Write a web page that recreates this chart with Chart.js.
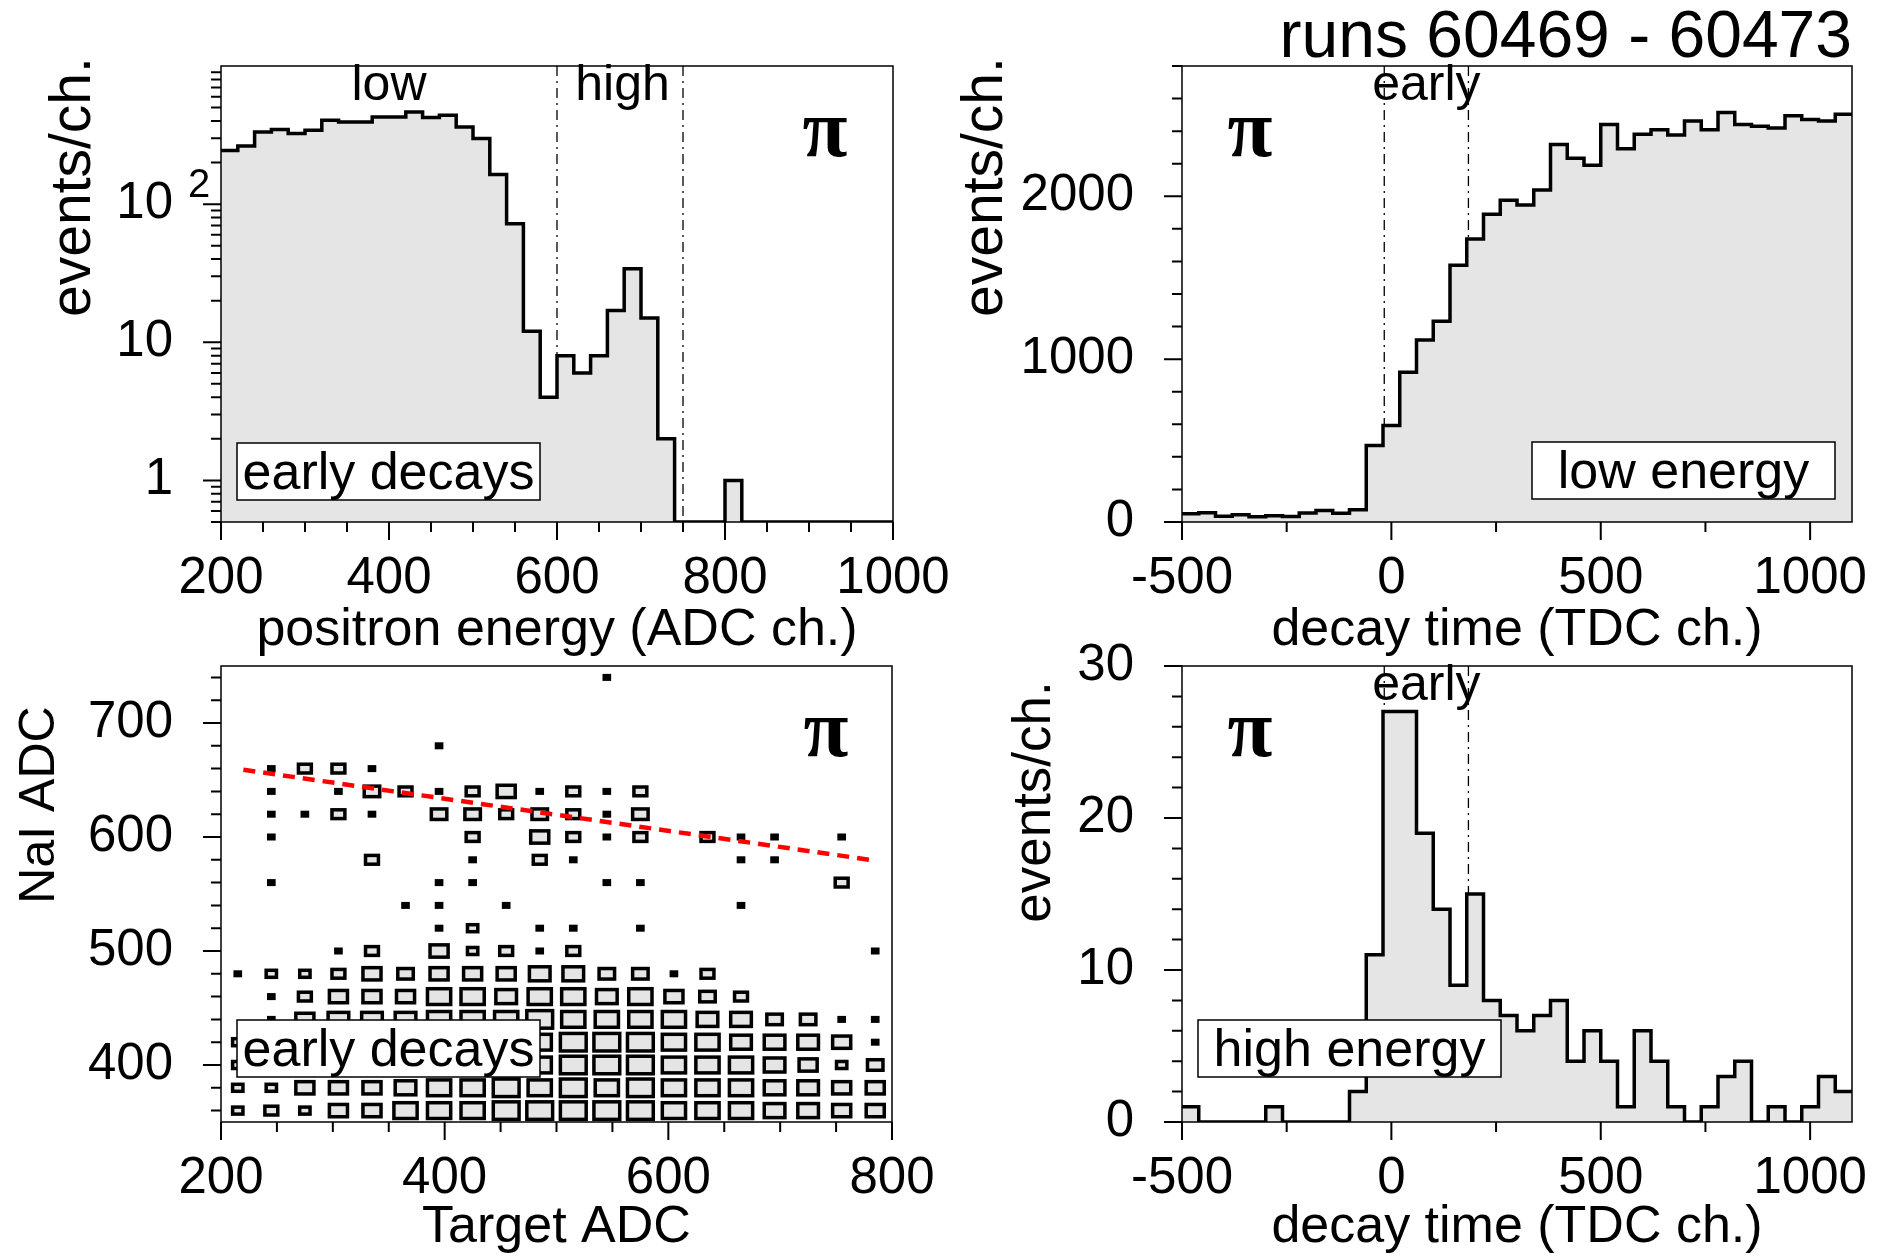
<!DOCTYPE html>
<html>
<head>
<meta charset="utf-8">
<script src="https://cdn.jsdelivr.net/npm/chart.js@4.4.1/dist/chart.umd.min.js"></script>
<style>
  body { margin: 0; background: #fff; }
  #page { position: relative; width: 1892px; height: 1259px; overflow: hidden; background: #fff; }
  canvas { position: absolute; }
</style>
</head>
<body>
<div id="page">
  <canvas id="energy" width="980" height="680" style="left:0;top:0;width:980px;height:680px"></canvas>
  <canvas id="lowTime" width="946" height="680" style="left:946px;top:0;width:946px;height:680px"></canvas>
  <canvas id="adc" width="980" height="640" style="left:0;top:640px;width:980px;height:640px"></canvas>
  <canvas id="highTime" width="946" height="640" style="left:946px;top:640px;width:946px;height:640px"></canvas>
</div>
<script>
// positron energy spectrum, early decays (bin low edges, 20 ADC ch. wide)
const energyBinLow = [200, 220, 240, 260, 280, 300, 320, 340, 360, 380, 400, 420, 440, 460, 480, 500, 520, 540, 560, 580,
  600, 620, 640, 660, 680, 700, 720, 740, 760, 780, 800, 820, 840, 860, 880, 900, 920, 940, 960, 980];
const energyCounts = [245, 264, 333, 347, 324, 343, 405, 393, 393, 428, 428, 465, 424, 440, 362, 299, 164, 72, 12, 4,
  8, 6, 8, 17, 34, 15, 2, 0, 0, 0, 1, 0, 0, 0, 0, 0, 0, 0, 0, 0];
const energyMax = 1000;
const energyTicks = [200, 400, 600, 800, 1000];
const energyCountTicks = [1, 10, 100];
const energyCuts = [600, 750];

// decay time spectra (bin low edges, 40 TDC ch. wide)
const timeBinLow = [-500, -460, -420, -380, -340, -300, -260, -220, -180, -140, -100, -60, -20, 20, 60, 100, 140, 180, 220, 260,
  300, 340, 380, 420, 460, 500, 540, 580, 620, 660, 700, 740, 780, 820, 860, 900, 940, 980, 1020, 1060];
const lowEnergyCounts = [50, 57, 35, 45, 32, 38, 34, 56, 70, 53, 75, 470, 593, 919, 1117, 1233, 1576, 1737, 1890, 1975,
  1947, 2038, 2318, 2233, 2191, 2441, 2292, 2381, 2409, 2377, 2462, 2409, 2515, 2441, 2430, 2419, 2494, 2472, 2462, 2504];
const highEnergyCounts = [1, 0, 0, 0, 0, 1, 0, 0, 0, 0, 2, 11, 27, 27, 19, 14, 9, 15, 8, 7,
  6, 7, 8, 4, 6, 4, 1, 6, 4, 1, 0, 1, 3, 4, 0, 1, 0, 1, 3, 2];
const timeMax = 1100;
const timeTicks = [-500, 0, 500, 1000];
const lowCountTicks = [0, 1000, 2000];
const highCountTicks = [0, 10, 20, 30];
const timeCuts = [-17, 184];

// NaI ADC vs Target ADC, box plot (cell centres, counts per cell, rows from 360 up to 740)
const targetAdc = [215, 245, 275, 305, 335, 365, 395, 425, 455, 485, 515, 545, 575, 605, 635, 665, 695, 725, 755, 785];
const naiAdc = [360, 380, 400, 420, 440, 460, 480, 500, 520, 540, 560, 580, 600, 620, 640, 660, 680, 700, 720, 740];
const boxCounts = [
  [4, 5, 4, 7, 7, 9, 9, 9, 10, 10, 10, 10, 10, 9, 9, 9, 8, 8, 7, 7],
  [4, 4, 7, 7, 7, 8, 9, 9, 10, 9, 10, 9, 10, 9, 9, 9, 8, 8, 7, 7],
  [4, 5, 7, 8, 8, 9, 9, 9, 10, 9, 10, 10, 10, 9, 9, 9, 8, 7, 4, 6],
  [4, 4, 7, 7, 8, 8, 9, 9, 9, 9, 10, 10, 10, 9, 9, 8, 8, 8, 7, 2],
  [0, 2, 7, 8, 8, 8, 9, 9, 9, 10, 9, 9, 9, 9, 8, 8, 6, 6, 2, 2],
  [0, 2, 5, 7, 7, 7, 9, 9, 8, 9, 9, 8, 9, 7, 6, 5, 0, 0, 0, 0],
  [2, 4, 4, 5, 7, 6, 7, 7, 7, 8, 8, 6, 6, 2, 5, 0, 0, 0, 0, 0],
  [0, 0, 0, 2, 5, 0, 7, 4, 5, 2, 5, 0, 0, 0, 0, 0, 0, 0, 0, 2],
  [0, 0, 0, 0, 0, 0, 2, 4, 0, 2, 2, 0, 2, 0, 0, 0, 0, 0, 0, 0],
  [0, 0, 0, 0, 0, 2, 2, 0, 2, 0, 0, 0, 0, 0, 0, 2, 0, 0, 0, 0],
  [0, 2, 0, 0, 0, 0, 2, 2, 0, 0, 0, 2, 2, 0, 0, 0, 0, 0, 5, 0],
  [0, 0, 0, 0, 5, 0, 0, 2, 0, 5, 2, 0, 0, 0, 0, 2, 2, 0, 0, 0],
  [0, 2, 0, 0, 0, 0, 0, 5, 0, 7, 5, 2, 5, 0, 5, 2, 2, 0, 2, 0],
  [0, 2, 2, 5, 2, 0, 6, 6, 5, 6, 5, 2, 6, 0, 0, 0, 0, 0, 0, 0],
  [0, 2, 0, 2, 6, 5, 2, 5, 7, 2, 5, 2, 5, 0, 0, 0, 0, 0, 0, 0],
  [0, 2, 5, 5, 2, 0, 0, 0, 0, 0, 0, 0, 0, 0, 0, 0, 0, 0, 0, 0],
  [0, 0, 0, 0, 0, 0, 2, 0, 0, 0, 0, 0, 0, 0, 0, 0, 0, 0, 0, 0],
  [0, 0, 0, 0, 0, 0, 0, 0, 0, 0, 0, 0, 0, 0, 0, 0, 0, 0, 0, 0],
  [0, 0, 0, 0, 0, 0, 0, 0, 0, 0, 0, 0, 0, 0, 0, 0, 0, 0, 0, 0],
  [0, 0, 0, 0, 0, 0, 0, 0, 0, 0, 0, 2, 0, 0, 0, 0, 0, 0, 0, 0]
];
const targetBinWidth = 30;
const naiBinWidth = 20;
const boxFullCount = 13;
const targetTicks = [200, 400, 600, 800];
const naiTicks = [400, 500, 600, 700];
const fitTarget = [220, 780];
const fitNai = [659, 580];

const FONT = '"Liberation Sans", Arial, Helvetica, sans-serif';
const FILL = '#e5e5e5';

Chart.defaults.font.family = FONT;
Chart.defaults.font.size = 51;
Chart.defaults.color = '#000';
Chart.defaults.animation = false;
Chart.defaults.plugins.legend.display = false;
Chart.defaults.plugins.tooltip.enabled = false;

function histogram(lows, counts, upper, floor) {
  // on the log axis empty bins sit on the bottom of the frame
  const pts = lows.map((x, i) => ({ x, y: floor ? Math.max(counts[i], floor) : counts[i] }));
  pts.push({ x: upper, y: pts[pts.length - 1].y });
  return {
    data: pts,
    stepped: true,
    borderColor: '#000',
    borderWidth: 3.5,
    borderJoinStyle: 'miter',
    backgroundColor: FILL,
    fill: 'start',
    pointRadius: 0
  };
}

function axis(o) {
  const horizontal = !!o.horizontal;
  return {
    type: o.type || 'linear',
    min: o.min,
    max: o.max,
    // tick marks are drawn by rootStyle, tickLength only sets the label offset
    grid: { display: false, drawTicks: true, tickLength: horizontal ? 26 : 48 },
    border: { display: false },
    ticks: {
      autoSkip: false,
      maxRotation: 0,
      padding: 0,
      font: horizontal ? {} : { lineHeight: 0.4 },
      callback: o.label || (v => String(v))
    },
    afterBuildTicks: s => { s.ticks = o.ticks.map(v => ({ value: v })); },
    afterFit: s => { if (horizontal) s.height = o.size; else s.width = o.size; },
    title: horizontal
      ? { display: true, text: o.title, font: { size: 52 }, padding: { top: 0, bottom: o.titlePad } }
      : { display: false }
  };
}

function tickMarks(from, to, step, major) {
  const out = [];
  for (let v = from; v <= to; v += step) out.push({ v, major: v % major === 0 });
  return out;
}

function logMarks(min, max) {
  const out = [];
  for (let d = -1; d <= 2; d++) {
    for (let k = 1; k <= 9; k++) {
      const v = k * Math.pow(10, d);
      if (v >= min && v < max) out.push({ v, major: k === 1 });
    }
  }
  return out;
}

const rootStyle = {
  id: 'rootStyle',
  beforeDatasetsDraw(chart, args, o) {
    const { ctx, chartArea: a, scales: { x } } = chart;
    ctx.save();
    ctx.strokeStyle = '#000';
    ctx.lineWidth = 1.3;
    ctx.setLineDash([10, 5, 2, 5]);
    (o.cuts || []).forEach(v => {
      const px = x.getPixelForValue(v);
      ctx.beginPath();
      ctx.moveTo(px, a.top);
      ctx.lineTo(px, a.bottom);
      ctx.stroke();
    });
    ctx.restore();
  },
  afterDatasetDraw(chart, args) {
    const ds = chart.data.datasets[args.index];
    if (!ds.cellSize) return;
    const { ctx, scales: { x, y } } = chart;
    const cw = Math.abs(x.getPixelForValue(ds.cellSize[0]) - x.getPixelForValue(0));
    const ch = Math.abs(y.getPixelForValue(ds.cellSize[1]) - y.getPixelForValue(0));
    ctx.save();
    ctx.fillStyle = FILL;
    ctx.strokeStyle = '#000';
    ctx.lineWidth = 3.5;
    args.meta.data.forEach((pt, k) => {
      const c = ds.data[k].count;
      const w = cw * c / boxFullCount, h = ch * c / boxFullCount;
      ctx.fillRect(pt.x - w / 2, pt.y - h / 2, w, h);
      ctx.strokeRect(pt.x - w / 2, pt.y - h / 2, w, h);
    });
    ctx.restore();
  },
  afterDraw(chart, args, o) {
    const { ctx, chartArea: a, scales: { x, y } } = chart;
    ctx.save();
    ctx.fillStyle = '#000';
    ctx.textBaseline = 'alphabetic';

    if (o.label) {
      const L = o.label, w = 303, h = 57;
      const bx = L.left != null ? a.left + L.left : a.right - L.right - w;
      const by = a.bottom - L.bottom - h;
      ctx.fillStyle = '#fff';
      ctx.fillRect(bx, by, w, h);
      ctx.strokeStyle = '#000';
      ctx.lineWidth = 1.5;
      ctx.strokeRect(bx, by, w, h);
      ctx.fillStyle = '#000';
      ctx.font = '52px ' + FONT;
      ctx.textAlign = 'center';
      ctx.fillText(L.text, bx + w / 2, by + h - 11);
    }

    ctx.strokeStyle = '#000';
    ctx.lineWidth = 1.5;
    ctx.strokeRect(a.left, a.top, a.right - a.left, a.bottom - a.top);
    ctx.lineWidth = 2;
    ctx.beginPath();
    o.xMarks.forEach(m => {
      const px = x.getPixelForValue(m.v);
      ctx.moveTo(px, a.bottom);
      ctx.lineTo(px, a.bottom + (m.major ? 18 : 10));
    });
    o.yMarks.forEach(m => {
      const py = y.getPixelForValue(m.v);
      ctx.moveTo(a.left, py);
      ctx.lineTo(a.left - (m.major ? 18 : 10), py);
    });
    ctx.stroke();

    ctx.textAlign = 'center';
    ctx.font = '50px ' + FONT;
    (o.notes || []).forEach(n => ctx.fillText(n.text, x.getPixelForValue(n.x), a.top + 34));

    if (o.pi != null) {
      ctx.font = 'bold 82px "Liberation Serif", "Times New Roman", serif';
      ctx.fillText('π', x.getPixelForValue(o.pi), a.top + 90);
    }

    if (o.exponent) {
      ctx.font = '40px ' + FONT;
      ctx.textAlign = 'left';
      ctx.fillText(o.exponent.text, a.left - 33, y.getPixelForValue(o.exponent.value) - 7);
    }

    if (o.yTitle) {
      const t = o.yTitle;
      ctx.font = t.size + 'px ' + FONT;
      ctx.translate(a.left + t.dx, a.top + t.cy);
      ctx.rotate(-Math.PI / 2);
      ctx.textAlign = 'center';
      ctx.fillText(t.text, 0, 0);
    }
    ctx.restore();
  }
};

const cutCentre = (timeCuts[0] + timeCuts[1]) / 2;

new Chart(document.getElementById('energy'), {
  type: 'line',
  data: { datasets: [histogram(energyBinLow, energyCounts, energyMax, 0.5)] },
  options: {
    responsive: false,
    layout: { padding: { left: 0, right: 87, top: 66, bottom: 0 } },
    scales: {
      x: axis({ min: 200, max: energyMax, ticks: energyTicks, title: 'positron energy (ADC ch.)', titlePad: 18, size: 158, horizontal: true }),
      y: axis({ type: 'logarithmic', min: 0.5, max: 1000, ticks: energyCountTicks, size: 221,
        label: v => (v === 100 ? '10' : String(v)) })
    },
    plugins: {
      rootStyle: {
        cuts: energyCuts,
        notes: [{ text: 'low', x: 400 }, { text: 'high', x: 678 }],
        pi: 919,
        label: { text: 'early decays', left: 16, bottom: 22 },
        exponent: { value: 100, text: '2' },
        yTitle: { text: 'events/ch.', size: 57, dx: -131, cy: 121 },
        xMarks: tickMarks(200, 1000, 50, 200),
        yMarks: logMarks(0.5, 1000)
      }
    }
  },
  plugins: [rootStyle]
});

new Chart(document.getElementById('lowTime'), {
  type: 'line',
  data: { datasets: [histogram(timeBinLow, lowEnergyCounts, timeMax)] },
  options: {
    responsive: false,
    layout: { padding: { left: 0, right: 40, top: 0, bottom: 0 } },
    scales: {
      x: axis({ min: -500, max: timeMax, ticks: timeTicks, title: 'decay time (TDC ch.)', titlePad: 18, size: 158, horizontal: true }),
      y: axis({ min: 0, max: 2800, ticks: lowCountTicks, size: 236 })
    },
    plugins: {
      title: {
        display: true,
        text: 'runs 60469 - 60473',
        align: 'end',
        font: { size: 66, lineHeight: 0.8, weight: 'normal' },
        padding: { top: 12, bottom: 1.2 }
      },
      rootStyle: {
        cuts: timeCuts,
        notes: [{ text: 'early', x: cutCentre }],
        pi: -338,
        label: { text: 'low energy', right: 17, bottom: 23 },
        yTitle: { text: 'events/ch.', size: 57, dx: -180, cy: 121 },
        xMarks: tickMarks(-500, 1100, 250, 500),
        yMarks: tickMarks(0, 2800, 200, 1000)
      }
    }
  },
  plugins: [rootStyle]
});

const cellPoints = [];
naiAdc.forEach((nai, j) => targetAdc.forEach((t, i) => {
  if (boxCounts[j][i] > 0) cellPoints.push({ x: t, y: nai, count: boxCounts[j][i] });
}));

new Chart(document.getElementById('adc'), {
  type: 'line',
  data: {
    datasets: [
      {
        data: fitTarget.map((x, i) => ({ x, y: fitNai[i] })),
        borderColor: '#ff0000',
        borderWidth: 4.5,
        borderDash: [12, 8],
        pointRadius: 0,
        fill: false
      },
      {
        data: cellPoints,
        showLine: false,
        pointRadius: 0,
        cellSize: [targetBinWidth, naiBinWidth]
      }
    ]
  },
  options: {
    responsive: false,
    layout: { padding: { left: 0, right: 88, top: 26, bottom: 0 } },
    scales: {
      x: axis({ min: 200, max: 800, ticks: targetTicks, title: 'Target ADC', titlePad: 21, size: 158, horizontal: true }),
      y: axis({ min: 350, max: 750, ticks: naiTicks, size: 221 })
    },
    plugins: {
      rootStyle: {
        pi: 741,
        label: { text: 'early decays', left: 16, bottom: 45 },
        yTitle: { text: 'NaI ADC', size: 50, dx: -167, cy: 139 },
        xMarks: tickMarks(200, 800, 50, 200),
        yMarks: tickMarks(360, 740, 20, 100)
      }
    }
  },
  plugins: [rootStyle]
});

new Chart(document.getElementById('highTime'), {
  type: 'line',
  data: { datasets: [histogram(timeBinLow, highEnergyCounts, timeMax)] },
  options: {
    responsive: false,
    layout: { padding: { left: 0, right: 40, top: 26, bottom: 0 } },
    scales: {
      x: axis({ min: -500, max: timeMax, ticks: timeTicks, title: 'decay time (TDC ch.)', titlePad: 21, size: 158, horizontal: true }),
      y: axis({ min: 0, max: 30, ticks: highCountTicks, size: 236 })
    },
    plugins: {
      rootStyle: {
        cuts: timeCuts,
        notes: [{ text: 'early', x: cutCentre }],
        pi: -338,
        label: { text: 'high energy', left: 16, bottom: 45 },
        yTitle: { text: 'events/ch.', size: 53, dx: -132, cy: 136 },
        xMarks: tickMarks(-500, 1100, 250, 500),
        yMarks: tickMarks(0, 30, 2, 10)
      }
    }
  },
  plugins: [rootStyle]
});
</script>
</body>
</html>
